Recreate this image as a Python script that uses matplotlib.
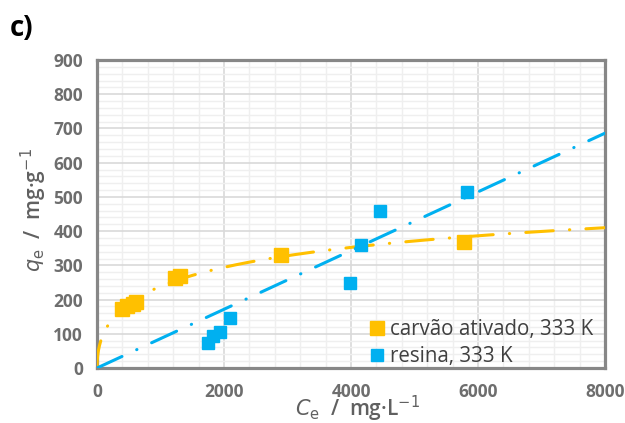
import numpy as np
import matplotlib
matplotlib.use("Agg")
import matplotlib.pyplot as plt
from matplotlib.ticker import MultipleLocator

# data
carvao_C = [400, 470, 560, 610, 1230, 1300, 2900, 5780]
carvao_q = [172, 180, 188, 192, 262, 268, 330, 369]
resina_C = [1750, 1830, 1930, 2090, 3990, 4150, 4450, 5820]
resina_q = [74, 93, 106, 145, 248, 359, 458, 513]
# fitted model parameters
sips_qm, sips_K, sips_n = 676.0, 0.000297, 0.5
lin_slope = 0.0858

orange = "#FFC000"
blue = "#00B0F0"
gray = "#6E6E6E"

plt.rcParams['font.family'] = ['Open Sans', 'DejaVu Sans']

fig = plt.figure(figsize=(6.25, 4.23), dpi=100)
ax = fig.add_axes([0.1552, 0.130, 0.8128, 0.728])

Cfit = np.linspace(0, 8000, 2000)
s = (sips_K * Cfit) ** sips_n
q_or = sips_qm * s / (1 + s)
q_bl = lin_slope * Cfit
ls = (0, (9, 5.3, 0.1, 5.3))
ax.plot(Cfit, q_or, color=orange, lw=2.2, linestyle=ls, dash_capstyle='round', zorder=3)
ax.plot(Cfit, q_bl, color=blue, lw=2.2, linestyle=ls, dash_capstyle='round', zorder=3)

ax.plot(carvao_C, carvao_q, 's', color=orange, ms=10.5, zorder=4, label="carvão ativado, 333 K")
ax.plot(resina_C, resina_q, 's', color=blue, ms=8, zorder=4, label="resina, 333 K")

ax.set_xlim(0, 8000)
ax.set_ylim(0, 900)
ax.xaxis.set_major_locator(MultipleLocator(2000))
ax.xaxis.set_minor_locator(MultipleLocator(400))
ax.yaxis.set_major_locator(MultipleLocator(100))
ax.yaxis.set_minor_locator(MultipleLocator(20))
ax.grid(which='major', color='#D9D9D9', lw=1.2, zorder=0)
ax.grid(which='minor', color='#EFEFEF', lw=1.0, zorder=0)
ax.set_axisbelow(True)
ax.tick_params(which='both', length=0)
ax.tick_params(axis='y', labelsize=12.5, labelcolor=gray, pad=10)
ax.tick_params(axis='x', labelsize=12.5, labelcolor=gray, pad=11)
for lab in ax.get_xticklabels() + ax.get_yticklabels():
    lab.set_fontweight('bold')
for sp in ax.spines.values():
    sp.set_color('#878787')
    sp.set_linewidth(2.3)

fig.text(357 / 625, 1 - 416 / 423, r"$\mathit{C}_\mathrm{e}$  /  mg·L$^{-1}$", fontsize=15,
         color='#606060', fontweight='semibold', ha='center', va='baseline')
fig.text(41 / 625, 1 - 210 / 423, r"$\mathit{q}_\mathrm{e}$  /  mg·g$^{-1}$", fontsize=15,
         color='#606060', fontweight='semibold', ha='center', va='baseline', rotation=90,
         rotation_mode='anchor')

leg = ax.legend(loc='lower right', frameon=False, fontsize=14.8, handlelength=0.7,
                handletextpad=0.3, borderaxespad=0.0, labelspacing=0.3,
                bbox_to_anchor=(0.993, -0.025))
for t in leg.get_texts():
    t.set_color('#404040')

fig.text(0.016, 1 - 36 / 423, "c)", fontsize=20, fontweight='bold', color='black', va='baseline')

fig.savefig("out.png", dpi=100)
